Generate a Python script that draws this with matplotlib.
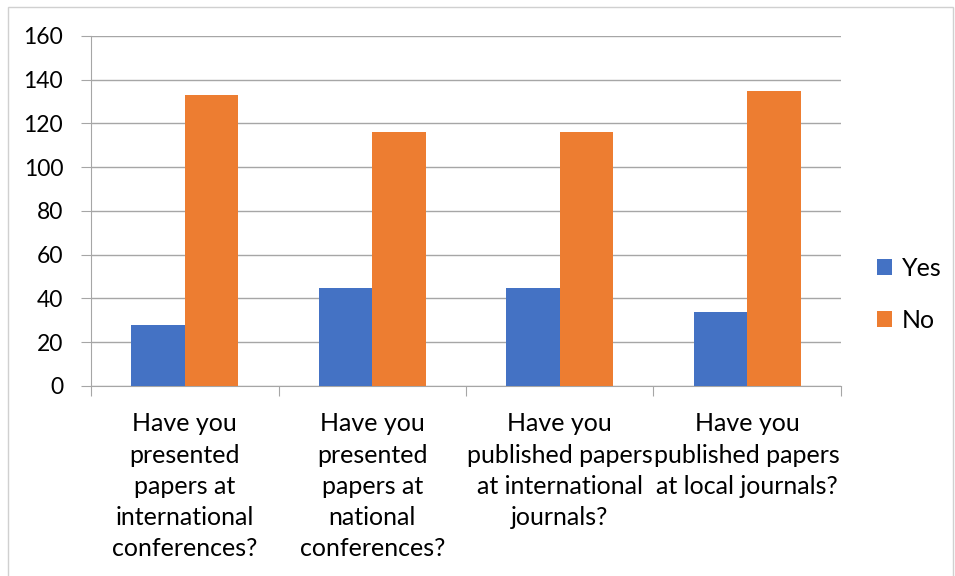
import numpy as np
import matplotlib.pyplot as plt

# survey answers per question
questions = [
    "Have you\npresented\npapers at\ninternational\nconferences?",
    "Have you\npresented\npapers at\nnational\nconferences?",
    "Have you\npublished papers\nat international\njournals?",
    "Have you\npublished papers\nat local journals?",
]
yes_counts = [28, 45, 45, 34]
no_counts = [133, 116, 116, 135]
yticks = [0, 20, 40, 60, 80, 100, 120, 140, 160]

plt.rcParams['font.family'] = ['Lato', 'DejaVu Sans']

fig = plt.figure(figsize=(9.55, 5.76), dpi=100)
ax = fig.add_axes([0.0953, 0.3299, 0.7853, 0.6076])

x = np.arange(len(questions))
w = 0.285
ax.bar(x - w / 2, yes_counts, w, color='#4472C4', label='Yes', zorder=3)
ax.bar(x + w / 2, no_counts, w, color='#ED7D31', label='No', zorder=3)

ax.set_xlim(-0.5, len(questions) - 0.5)
ax.set_ylim(0, 160)
ax.set_yticks(yticks)
ax.tick_params(axis='y', labelsize=16.5, length=7, color='#a6a6a6', pad=13)
ax.yaxis.grid(True, color='#a6a6a6', linewidth=1, zorder=0)

# category labels between boundary ticks
ax.set_xticks(np.arange(len(questions) + 1) - 0.5)
ax.set_xticklabels([])
ax.set_xticks(x, minor=True)
ax.set_xticklabels(questions, minor=True, fontsize=18, linespacing=1.43)
ax.tick_params(axis='x', which='major', length=7, color='#a6a6a6')
ax.tick_params(axis='x', which='minor', length=0, pad=19)

for side in ['top', 'right']:
    ax.spines[side].set_visible(False)
for side in ['left', 'bottom']:
    ax.spines[side].set_color('#a6a6a6')

ax.legend(loc='center left', bbox_to_anchor=(0.918, 0.489), bbox_transform=fig.transFigure,
          frameon=False, fontsize=18, handlelength=0.6, handleheight=0.6,
          handletextpad=0.4, labelspacing=1.15, borderpad=0, borderaxespad=0)

# light frame around the whole chart
fig.patches.append(plt.Rectangle((0.008, -0.01), 0.99, 0.998, transform=fig.transFigure,
                                 fill=False, edgecolor='#d0d0d0', linewidth=1))

fig.savefig('out.png', dpi=100)
